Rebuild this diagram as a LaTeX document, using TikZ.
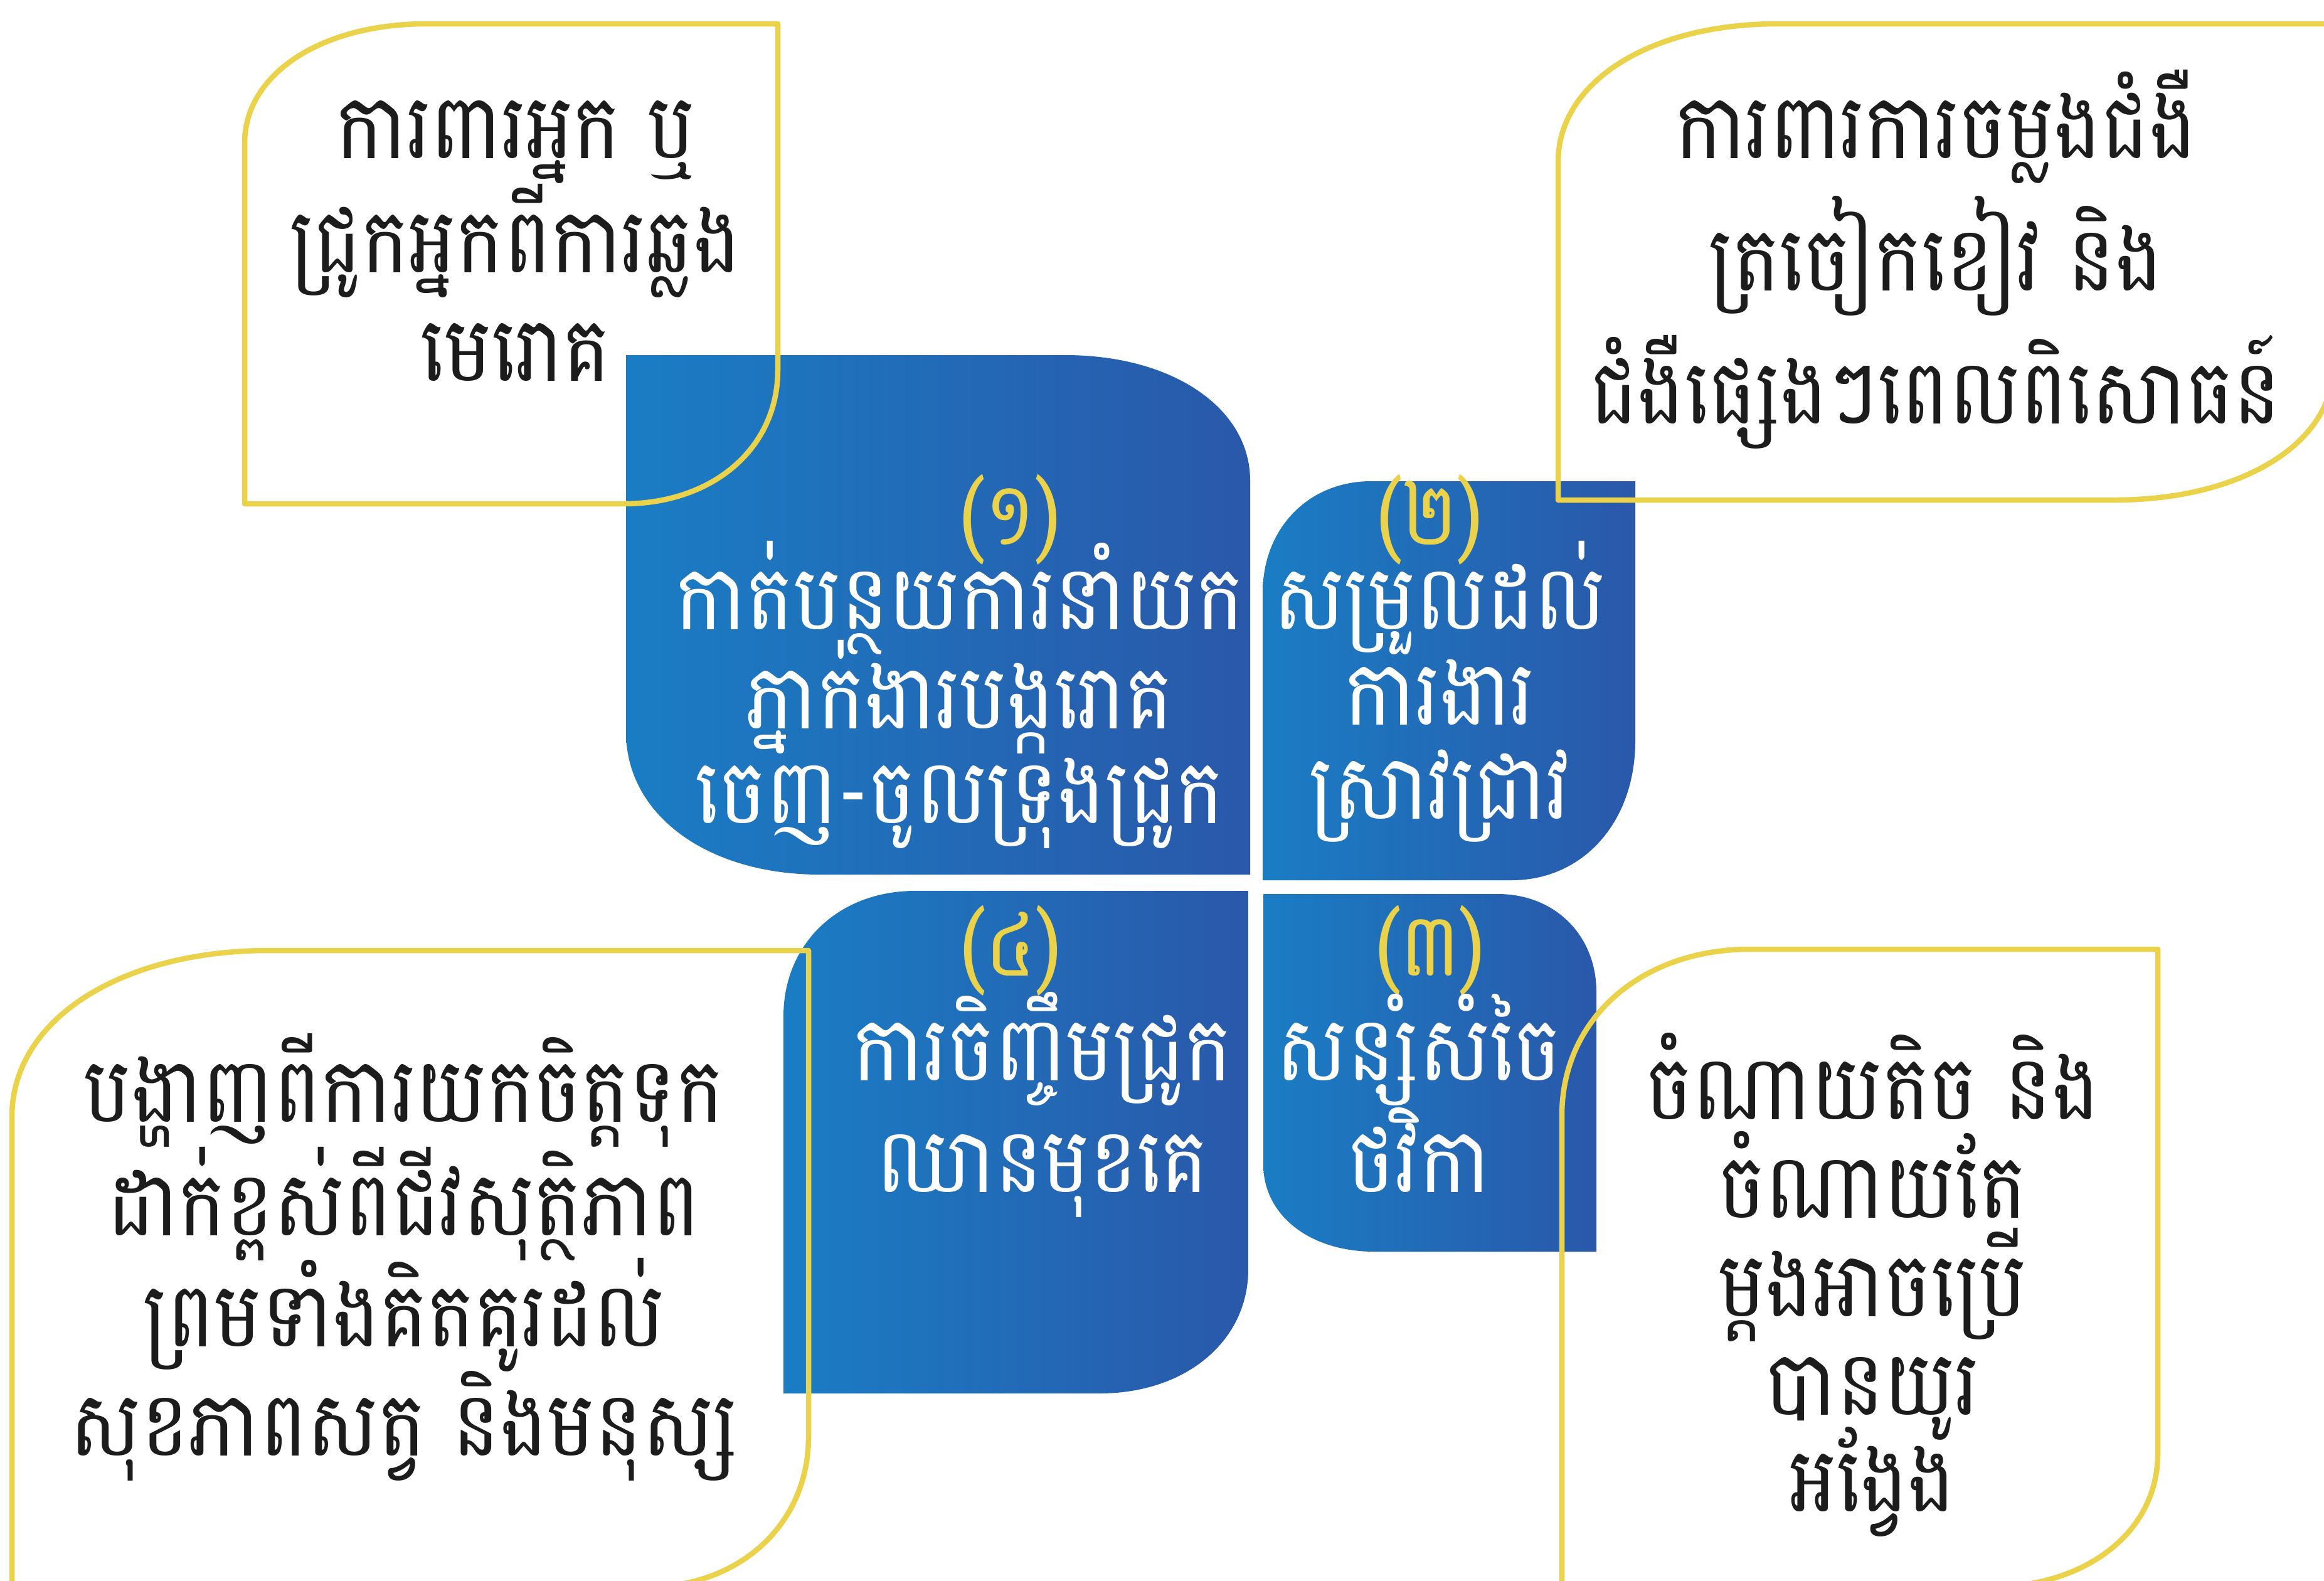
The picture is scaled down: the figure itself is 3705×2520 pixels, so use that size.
\documentclass[tikz,border=0pt]{standalone}
\usepackage{fontspec}
\newfontfamily\kh[Script=Khmer,FakeStretch=0.88]{Battambang}
\definecolor{ylw}{RGB}{234,211,74}
\definecolor{blA}{RGB}{26,125,196}
\definecolor{blB}{RGB}{42,88,170}
\definecolor{ink}{RGB}{28,28,28}
\begin{document}
\begin{tikzpicture}[x=0.1mm,y=-0.1mm,
  blob/.style={left color=blA,right color=blB,draw=none},
  frame/.style={draw=ylw,line width=0.85mm,line join=round},
  bk/.style={font=\kh\fontsize{41}{48}\selectfont,text=ink,anchor=base,inner sep=0pt},
  wt/.style={font=\kh\fontsize{41}{48}\selectfont,text=white,anchor=base,inner sep=0pt},
  num/.style={font=\kh\fontsize{40}{48}\selectfont,text=ylw,anchor=base,inner sep=0pt}]
\useasboundingbox (0,0) rectangle (3705,2520);
\clip (0,0) rectangle (3705,2520);
\fill[white] (0,0) rectangle (3705,2520);
% blue shapes
\path[blob] (998,566) -- (1698,566) .. controls (1869,566) and (1993,650) .. (1993,766)
  -- (1993,1394) -- (1307,1394) .. controls (1128,1394) and (998,1299) .. (998,1167) -- cycle;
\path[blob] (2013,945) .. controls (2013,842) and (2086,767) .. (2186,767) -- (2607,767)
  -- (2607,1181) .. controls (2607,1310) and (2524,1403) .. (2410,1403) -- (2013,1403) -- cycle;
\path[blob] (2014,1425) -- (2388,1425) .. controls (2479,1425) and (2545,1491) .. (2545,1581)
  -- (2545,1995) -- (2191,1995) .. controls (2088,1995) and (2014,1937) .. (2014,1856) -- cycle;
\path[blob] (1249,1620) .. controls (1249,1504) and (1337,1420) .. (1459,1420) -- (1990,1420)
  -- (1990,2023) .. controls (1990,2138) and (1890,2221) .. (1753,2221) -- (1249,2221) -- cycle;
% yellow frames
\draw[frame] (390,228) .. controls (390,118) and (512,38) .. (680,38) -- (1240,38) -- (1240,590)
  .. controls (1240,714) and (1137,803) .. (994,803) -- (390,803) -- cycle;
\draw[frame] (2484,258) .. controls (2484,130) and (2631,38) .. (2834,38) -- (3720,38) -- (3720,583)
  .. controls (3720,707) and (3573,797) .. (3371,797) -- (2484,797) -- cycle;
\draw[frame] (19,1780) .. controls (19,1626) and (191,1515) .. (429,1515) -- (1289,1515) -- (1289,2290)
  .. controls (1289,2429) and (1180,2530) .. (1029,2530) -- (19,2530) -- cycle;
\draw[frame] (2490,1778) .. controls (2490,1624) and (2616,1513) .. (2790,1513) -- (3440,1513) -- (3440,2317)
  .. controls (3440,2441) and (3327,2530) .. (3170,2530) -- (2490,2530) -- cycle;
% top-left text
\node[bk] (tl1) at (822,252) {ការពារអ្នក ឬ};
\node[bk] (tl2) at (822,434) {ជ្រូកអ្នកពីការឆ្លង};
\node[bk] (tl3) at (822,607) {មេរោគ};
% top-right text
\node[bk] (tr1) at (3086,252) {ការពារការចម្លងជំងឺ};
\node[bk] (tr2) at (3086,463) {ត្រចៀកខៀវ និង};
\node[bk] (tr3) at (3086,675) {ជំងឺផ្សេងៗពេលពិសោធន៍};
% blue 1
\node[num] (n1) at (1610,868) {(១)};
\node[wt] (b11) at (1530,1003) {កាត់បន្ថយការនាំយក};
\node[wt] (b12) at (1530,1161) {ភ្នាក់ងារបង្ករោគ};
\node[wt] (b13) at (1530,1312) {ចេញ-ចូលទ្រុងជ្រូក};
% blue 2
\node[num] (n2) at (2279,868) {(២)};
\node[wt] (b21) at (2295,1003) {សម្រួលដល់};
\node[wt] (b22) at (2295,1155) {ការងារ};
\node[wt] (b23) at (2295,1305) {ស្រាវជ្រាវ};
% blue 4
\node[num] (n4) at (1611,1555) {(៤)};
\node[wt] (b41) at (1662,1722) {ការចិញ្ចឹមជ្រូក};
\node[wt] (b42) at (1662,1900) {ឈានមុខគេ};
% blue 3
\node[num] (n3) at (2280,1555) {(៣)};
\node[wt] (b31) at (2262,1722) {សន្សំសំចៃ};
\node[wt] (b32) at (2262,1900) {ថវិកា};
% bottom-left text
\node[bk] (bl1) at (644,1788) {បង្ហាញពីការយកចិត្តទុក};
\node[bk] (bl2) at (644,1969) {ដាក់ខ្ពស់ពីជីវសុត្ថិភាព};
\node[bk] (bl3) at (644,2146) {ព្រមទាំងគិតគូរដល់};
\node[bk] (bl4) at (644,2320) {សុខភាពសត្វ និងមនុស្ស};
% bottom-right text
\node[bk] (br1) at (2985,1784) {ចំណាយតិច និង};
\node[bk] (br2) at (2985,1941) {ចំណាយតែ};
\node[bk] (br3) at (2985,2098) {ម្តងអាចប្រើ};
\node[bk] (br4) at (2985,2255) {បានយូរ};
\node[bk] (br5) at (2985,2409) {អង្វែង};
\end{tikzpicture}
\end{document}
